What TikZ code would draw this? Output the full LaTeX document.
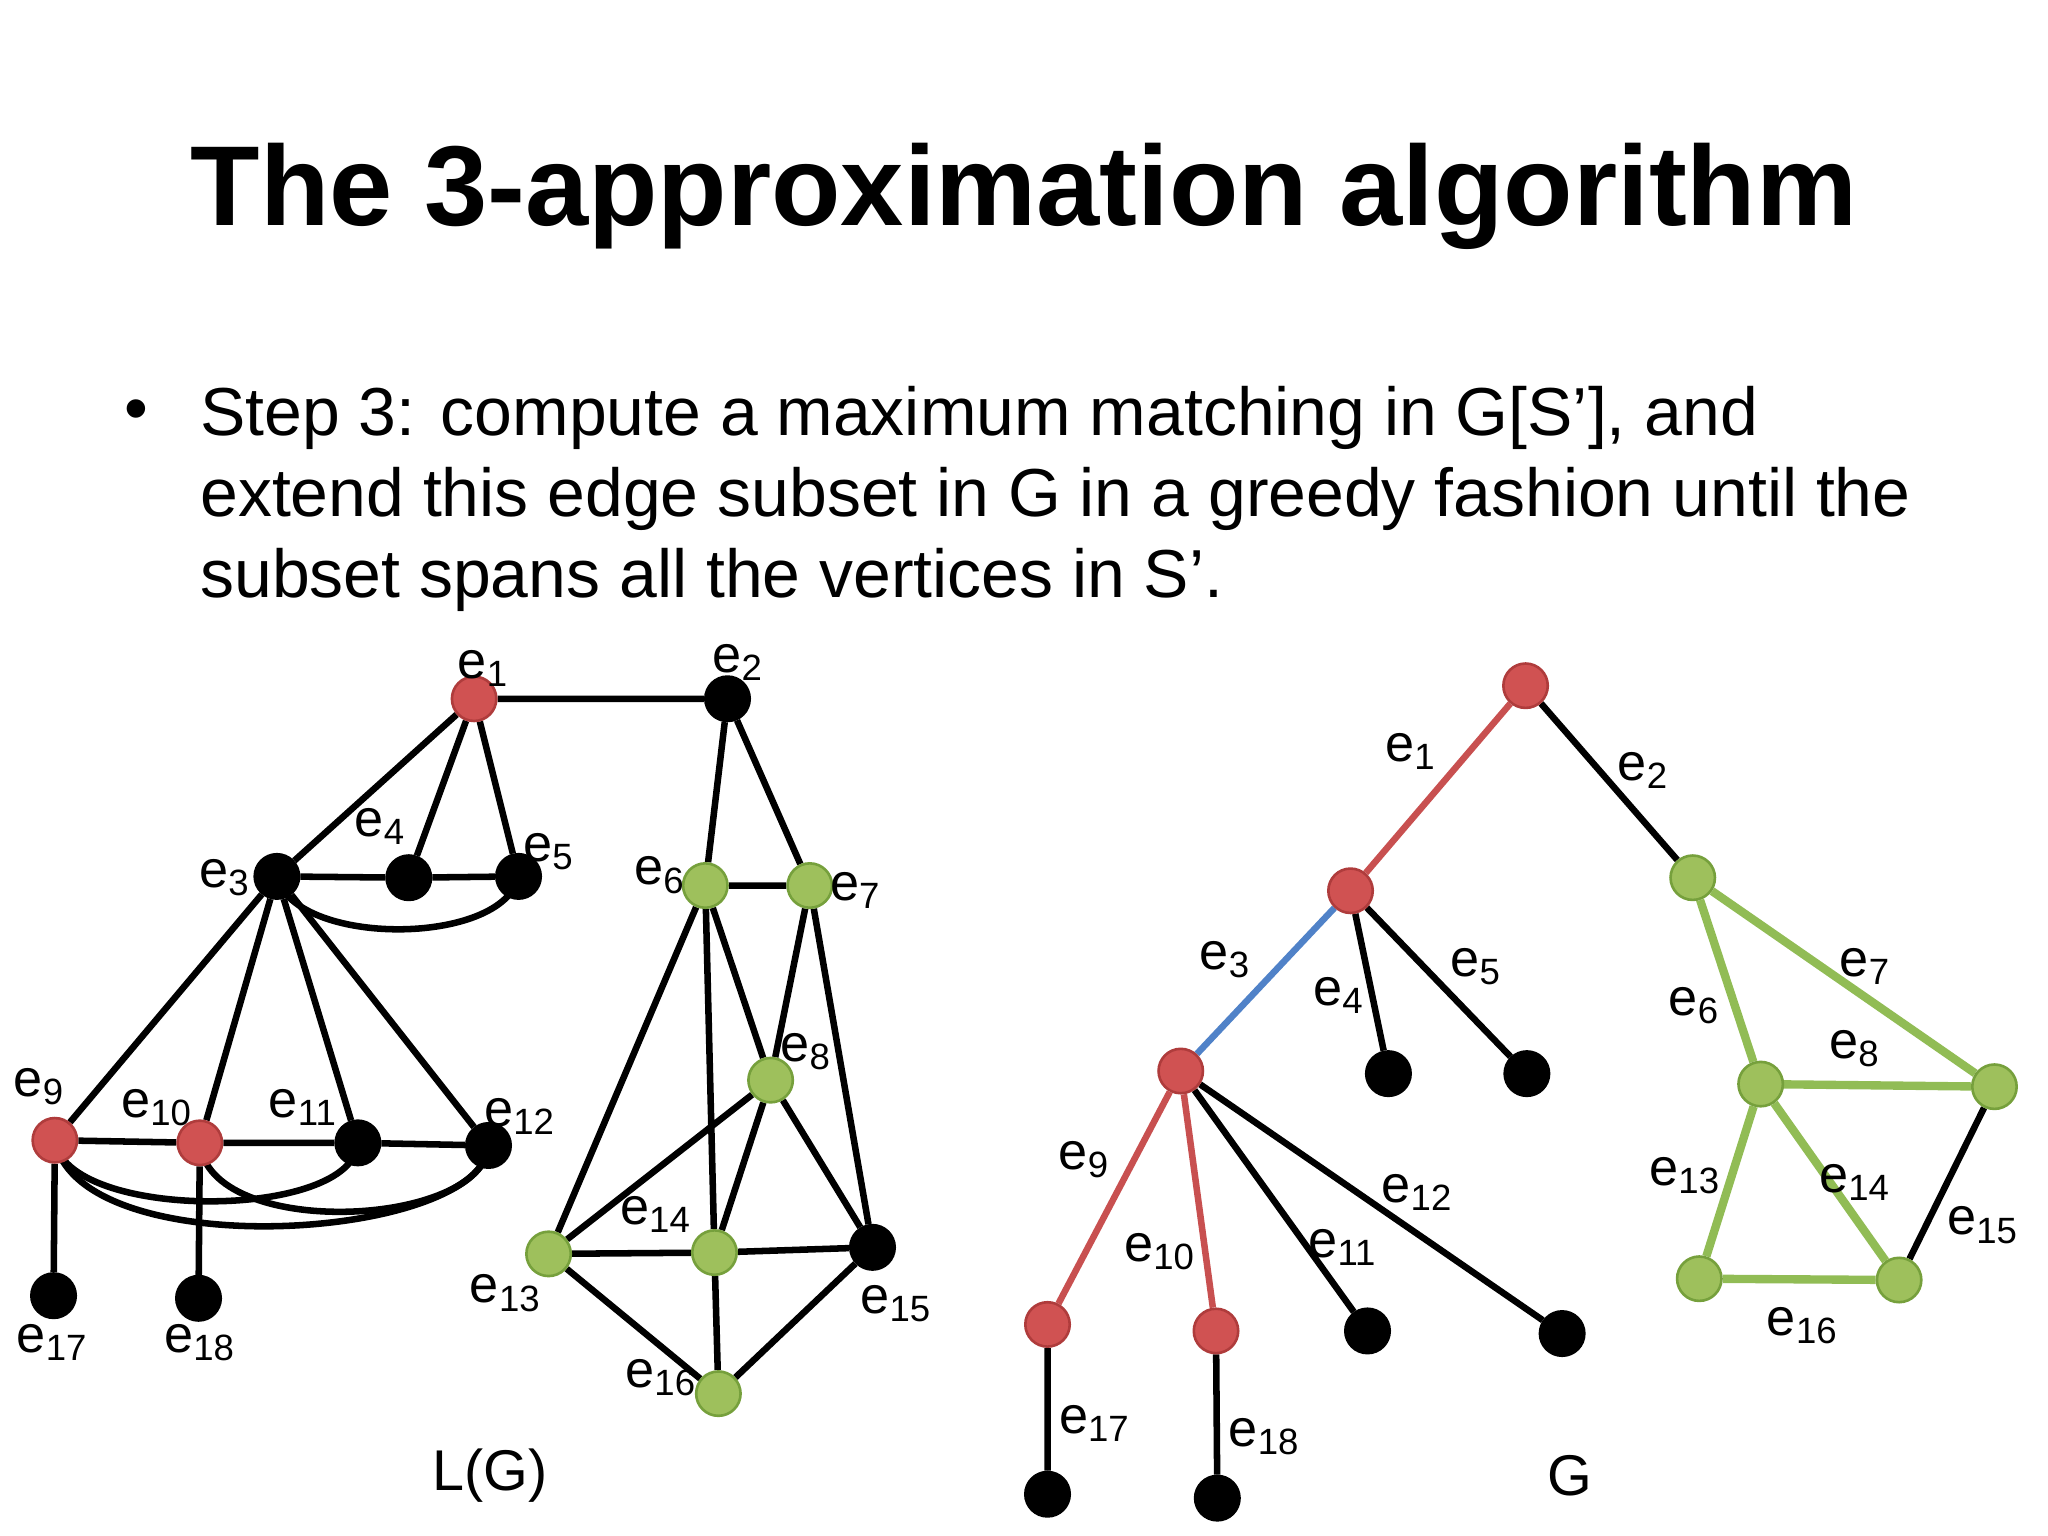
\documentclass[tikz,border=0pt]{standalone}
\usepackage{fontspec}
\setmainfont{Liberation Sans}
\usetikzlibrary{backgrounds}
\begin{document}
\begin{tikzpicture}[x=0.5pt,y=-0.5pt,
  vb/.style={circle,draw=black,fill=black,line width=1pt,minimum size=17pt,inner sep=0pt},
  vr/.style={vb,fill=nred,draw=nredd},
  vg/.style={vb,fill=ngreen,draw=ngreend},
  ed/.style={line width=2.5pt,black},
  lb/.style={font=\fontsize{20}{20}\selectfont,inner sep=0pt}]
\definecolor{nred}{RGB}{208,82,82}
\definecolor{nredd}{RGB}{175,60,60}
\definecolor{ngreen}{RGB}{158,192,92}
\definecolor{ngreend}{RGB}{118,160,60}
\definecolor{ered}{RGB}{200,80,80}
\definecolor{eblue}{RGB}{80,130,200}
\definecolor{egreen}{RGB}{145,188,85}
\useasboundingbox (0,0) rectangle (1568,1176);
\node[font=\bfseries\fontsize{43.5}{43.5}\selectfont] (title) at (784,150) {The 3-approximation algorithm};
\node[anchor=west,font=\fontsize{26}{26}\selectfont] (bul) at (88,318) {•};
\node[anchor=north west,align=left,font=\fontsize{26}{31}\selectfont,inner sep=0pt] (txt) at (153,295)
 {Step 3: compute a maximum matching in G[S’], and\\extend this edge subset in G in a greedy fashion until the\\subset spans all the vertices in S’.};
% L(G)
\node[vr] (e1) at (363,535) {};
\node[vb] (e2) at (557,535) {};
\node[vb] (e3) at (212,671) {};
\node[vb] (e4) at (313,672) {};
\node[vb] (e5) at (397,671) {};
\node[vg] (e6) at (540,678) {};
\node[vg] (e7) at (620,678) {};
\node[vg] (e8) at (590,827) {};
\node[vr] (e9) at (42,873) {};
\node[vr] (e10) at (153,875) {};
\node[vb] (e11) at (274,875) {};
\node[vb] (e12) at (374,877) {};
\node[vg] (e13) at (420,960) {};
\node[vg] (e14) at (547,959) {};
\node[vb] (e15) at (668,955) {};
\node[vg] (e16) at (550,1067) {};
\node[vb] (e17) at (41,992) {};
\node[vb] (e18) at (152,994) {};
\begin{pgfonlayer}{background}
\draw[ed] (e1)--(e2) (e1)--(e3) (e1)--(e4) (e1)--(e5) (e3)--(e4) (e4)--(e5)
 (e2)--(e6) (e2)--(e7) (e6)--(e7) (e3)--(e9) (e3)--(e10) (e3)--(e11) (e3)--(e12)
 (e9)--(e10) (e10)--(e11) (e11)--(e12) (e9)--(e17) (e10)--(e18)
 (e6)--(e13) (e6)--(e14) (e6)--(e8) (e7)--(e8) (e7)--(e15) (e8)--(e13) (e8)--(e14) (e8)--(e15)
 (e13)--(e14) (e14)--(e15) (e13)--(e16) (e14)--(e16) (e15)--(e16);
\draw[ed] (e3.center) .. controls (225,725) and (385,725) .. (e5.center);
\draw[ed] (e9.center) .. controls (50,935) and (270,935) .. (e11.center);
\draw[ed] (e9.center) .. controls (60,970) and (370,950) .. (e12.center);
\draw[ed] (e10.center) .. controls (160,950) and (370,940) .. (e12.center);
\end{pgfonlayer}
\foreach \n/\xy in {1/{370,512},2/{565,507},3/{172,672},4/{291,633},5/{420,652},6/{505,670},7/{655,682},8/{617,805},9/{30,832},10/{120,848},11/{232,848},12/{398,855},13/{387,990},14/{502,930},15/{686,998},16/{506,1055},17/{40,1028},18/{153,1028}}
  \node[lb] (l\n) at (\xy) {e\textsubscript{\n}};
\node[font=\fontsize{22}{22}\selectfont] (LG) at (375,1130) {L(G)};
% G
\node[vr] (r) at (1168,525) {};
\node[vr] (a) at (1034,682) {};
\node[vg] (b) at (1296,672) {};
\node[vr] (c) at (904,820) {};
\node[vb] (d4) at (1063,822) {};
\node[vb] (d5) at (1169,822) {};
\node[vg] (g1) at (1348,830) {};
\node[vg] (g2) at (1527,832) {};
\node[vg] (g3) at (1301,979) {};
\node[vg] (g4) at (1454,980) {};
\node[vr] (c9) at (802,1014) {};
\node[vr] (c10) at (931,1019) {};
\node[vb] (c11) at (1047,1019) {};
\node[vb] (c12) at (1196,1021) {};
\node[vb] (c17) at (802,1144) {};
\node[vb] (c18) at (932,1147) {};
\begin{pgfonlayer}{background}
\draw[ed,ered] (r)--(a) (c)--(c9) (c)--(c10);
\draw[ed,eblue] (a)--(c);
\draw[ed,egreen,line width=3.2pt] (b)--(g1) (b)--(g2) (g1)--(g2) (g1)--(g3) (g1)--(g4) (g3)--(g4);
\draw[ed] (r)--(b) (a)--(d4) (a)--(d5) (g2)--(g4) (c)--(c11) (c)--(c12) (c9)--(c17) (c10)--(c18);
\end{pgfonlayer}
\foreach \n/\xy in {1/{1080,575},2/{1258,590},3/{938,735},4/{1025,762},5/{1130,740},6/{1297,770},7/{1428,740},8/{1420,803},9/{830,888},10/{888,958},11/{1028,955},12/{1085,913},13/{1290,900},14/{1420,905},15/{1518,938},16/{1380,1015},17/{838,1090},18/{968,1100}}
  \node[lb] (m\n) at (\xy) {e\textsubscript{\n}};
\node[font=\fontsize{22}{22}\selectfont] (Gl) at (1202,1130) {G};
\end{tikzpicture}
\end{document}
